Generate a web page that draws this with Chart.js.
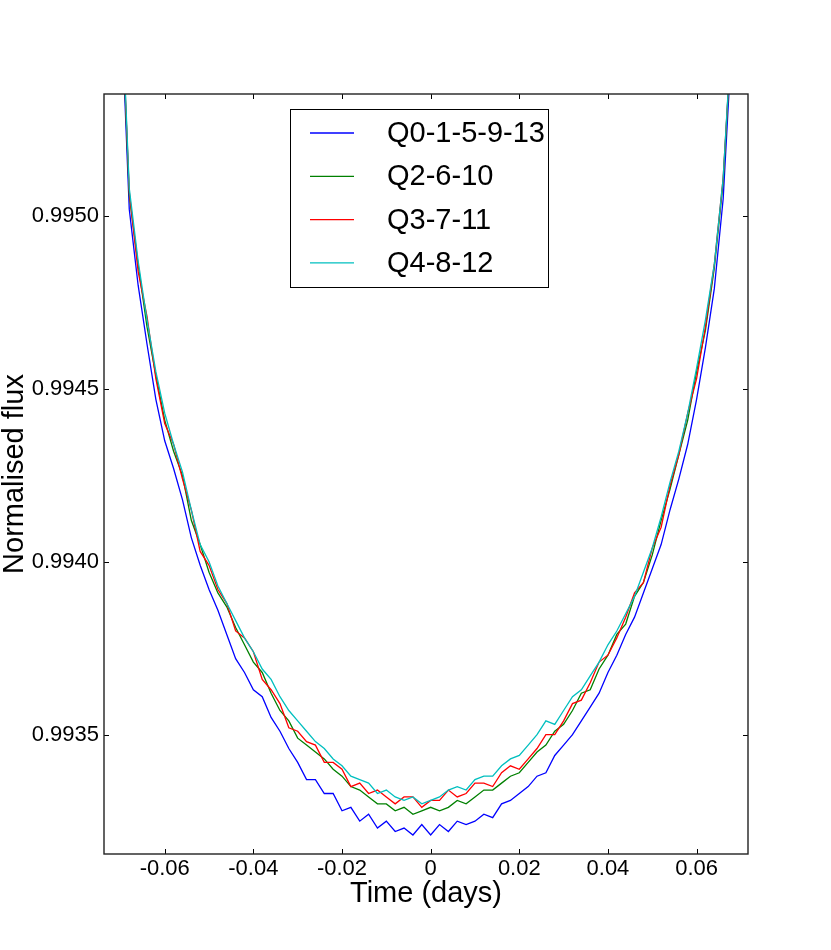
<!DOCTYPE html>
<html>
<head>
<meta charset="utf-8">
<title>Normalised flux</title>
<script src="https://cdn.jsdelivr.net/npm/chart.js@4.4.0/dist/chart.umd.min.js"></script>
<style>
  html, body { margin: 0; padding: 0; background: #fff; }
  #wrap { width: 831px; height: 950px; }
</style>
</head>
<body>
<div id="wrap"><canvas id="fluxChart" width="831" height="950"></canvas></div>
<script>
// time from mid-transit (days)
const timeDays = [
  -0.072, -0.070, -0.068, -0.066, -0.064, -0.062, -0.060, -0.058, -0.056, -0.054, -0.052, -0.050,
  -0.048, -0.046, -0.044, -0.042, -0.040, -0.038, -0.036, -0.034, -0.032, -0.030, -0.028, -0.026,
  -0.024, -0.022, -0.020, -0.018, -0.016, -0.014, -0.012, -0.010, -0.008, -0.006, -0.004, -0.002,
  0.000, 0.002, 0.004, 0.006, 0.008, 0.010, 0.012, 0.014, 0.016, 0.018, 0.020, 0.022,
  0.024, 0.026, 0.028, 0.030, 0.032, 0.034, 0.036, 0.038, 0.040, 0.042, 0.044, 0.046,
  0.048, 0.050, 0.052, 0.054, 0.056, 0.058, 0.060, 0.062, 0.064, 0.066, 0.068, 0.070
];

const fluxQ0 = [
  0.99648, 0.99566, 0.99502, 0.99480, 0.99463, 0.99447, 0.99435, 0.99427, 0.99418, 0.99407, 0.99399, 0.99392,
  0.99386, 0.99379, 0.99372, 0.99368, 0.99363, 0.99361, 0.99355, 0.99351, 0.99346, 0.99342, 0.99337, 0.99337,
  0.99333, 0.99333, 0.99328, 0.99329, 0.99325, 0.99327, 0.99323, 0.99325, 0.99322, 0.99323, 0.99321, 0.99324,
  0.99321, 0.99324, 0.99322, 0.99325, 0.99324, 0.99325, 0.99327, 0.99326, 0.99330, 0.99331, 0.99333, 0.99335,
  0.99338, 0.99339, 0.99344, 0.99347, 0.99350, 0.99354, 0.99358, 0.99362, 0.99368, 0.99373, 0.99379, 0.99384,
  0.99391, 0.99398, 0.99405, 0.99415, 0.99424, 0.99434, 0.99447, 0.99462, 0.99479, 0.99505, 0.99552, 0.99638
];

const fluxQ2 = [
  0.99650, 0.99569, 0.99506, 0.99486, 0.99468, 0.99454, 0.99441, 0.99432, 0.99425, 0.99412, 0.99405, 0.99397,
  0.99391, 0.99387, 0.99381, 0.99376, 0.99371, 0.99368, 0.99362, 0.99357, 0.99354, 0.99349, 0.99347, 0.99345,
  0.99343, 0.99340, 0.99338, 0.99335, 0.99334, 0.99332, 0.99330, 0.99330, 0.99328, 0.99329, 0.99327, 0.99328,
  0.99329, 0.99328, 0.99329, 0.99331, 0.99330, 0.99332, 0.99334, 0.99334, 0.99336, 0.99338, 0.99339, 0.99342,
  0.99345, 0.99347, 0.99351, 0.99353, 0.99357, 0.99362, 0.99363, 0.99369, 0.99373, 0.99379, 0.99382, 0.99390,
  0.99394, 0.99402, 0.99412, 0.99421, 0.99431, 0.99441, 0.99455, 0.99467, 0.99485, 0.99510, 0.99555, 0.99640
];

const fluxQ3 = [
  0.99650, 0.99570, 0.99507, 0.99484, 0.99471, 0.99453, 0.99440, 0.99434, 0.99424, 0.99415, 0.99403, 0.99399,
  0.99392, 0.99388, 0.99380, 0.99378, 0.99374, 0.99366, 0.99363, 0.99359, 0.99352, 0.99351, 0.99348, 0.99347,
  0.99342, 0.99342, 0.99340, 0.99335, 0.99336, 0.99333, 0.99334, 0.99332, 0.99330, 0.99332, 0.99332, 0.99329,
  0.99331, 0.99331, 0.99334, 0.99332, 0.99333, 0.99336, 0.99336, 0.99335, 0.99339, 0.99341, 0.99340, 0.99343,
  0.99346, 0.99350, 0.99350, 0.99354, 0.99359, 0.99360, 0.99365, 0.99371, 0.99373, 0.99378, 0.99384, 0.99391,
  0.99394, 0.99404, 0.99410, 0.99422, 0.99431, 0.99443, 0.99453, 0.99468, 0.99486, 0.99511, 0.99555, 0.99640
];

const fluxQ4 = [
  0.99652, 0.99572, 0.99508, 0.99487, 0.99470, 0.99455, 0.99443, 0.99434, 0.99426, 0.99415, 0.99405, 0.99400,
  0.99393, 0.99388, 0.99383, 0.99378, 0.99374, 0.99369, 0.99366, 0.99361, 0.99357, 0.99354, 0.99351, 0.99348,
  0.99346, 0.99343, 0.99341, 0.99338, 0.99337, 0.99336, 0.99333, 0.99334, 0.99332, 0.99331, 0.99332, 0.99330,
  0.99331, 0.99332, 0.99334, 0.99335, 0.99334, 0.99337, 0.99338, 0.99338, 0.99341, 0.99343, 0.99344, 0.99347,
  0.99350, 0.99354, 0.99353, 0.99357, 0.99361, 0.99363, 0.99367, 0.99371, 0.99376, 0.99380, 0.99385, 0.99390,
  0.99397, 0.99404, 0.99413, 0.99423, 0.99432, 0.99443, 0.99456, 0.99470, 0.99486, 0.99511, 0.99556, 0.99642
];

const seriesLabels = ['Q0-1-5-9-13', 'Q2-6-10', 'Q3-7-11', 'Q4-8-12'];
const seriesColors = ['#0000ff', '#008000', '#ff0000', '#00bfbf'];

const xTicks = [-0.06, -0.04, -0.02, 0, 0.02, 0.04, 0.06];
const xTickLabels = ['-0.06', '-0.04', '-0.02', '0', '0.02', '0.04', '0.06'];
const yTicks = [0.9935, 0.9940, 0.9945, 0.9950];
const yTickLabels = ['0.9935', '0.9940', '0.9945', '0.9950'];

Chart.defaults.font.family = "'Liberation Sans', Arial, sans-serif";
Chart.defaults.color = '#000';

function toPoints(values) {
    return values.map((v, i) => ({ x: timeDays[i], y: v }));
}

// matplotlib-style box: frame, inward ticks on all four sides, boxed legend
const frameAndLegend = {
    id: 'frameAndLegend',
    afterDatasetsDraw(chart) {
        const { ctx, chartArea: a, scales: { x, y } } = chart;
        ctx.save();
        ctx.strokeStyle = '#000';
        ctx.lineWidth = 1;
        ctx.beginPath();
        xTicks.forEach(v => {
            const px = Math.round(x.getPixelForValue(v)) + 0.5;
            ctx.moveTo(px, a.bottom); ctx.lineTo(px, a.bottom - 5);
            ctx.moveTo(px, a.top); ctx.lineTo(px, a.top + 5);
        });
        yTicks.forEach(v => {
            const py = Math.round(y.getPixelForValue(v)) + 0.5;
            ctx.moveTo(a.left, py); ctx.lineTo(a.left + 5, py);
            ctx.moveTo(a.right, py); ctx.lineTo(a.right - 5, py);
        });
        ctx.stroke();

        ctx.lineWidth = 1.4;
        ctx.strokeStyle = '#222';
        ctx.strokeRect(a.left, a.top, a.right - a.left, a.bottom - a.top);

        // legend
        const box = { left: 290.5, top: 109.5, width: 258, height: 178 };
        ctx.fillStyle = '#fff';
        ctx.fillRect(box.left, box.top, box.width, box.height);
        ctx.lineWidth = 1;
        ctx.strokeStyle = '#000';
        ctx.strokeRect(box.left, box.top, box.width, box.height);
        ctx.font = "29px 'Liberation Sans', Arial, sans-serif";
        ctx.textBaseline = 'middle';
        ctx.textAlign = 'left';
        chart.data.datasets.forEach((ds, i) => {
            const rowY = 133 + i * 43.3;
            ctx.strokeStyle = ds.borderColor;
            ctx.lineWidth = 1.3;
            ctx.beginPath();
            ctx.moveTo(310, rowY);
            ctx.lineTo(354, rowY);
            ctx.stroke();
            ctx.fillStyle = '#000';
            ctx.fillText(ds.label, 387, rowY + 1);
        });
        ctx.restore();
    }
};

const fluxSeries = [fluxQ0, fluxQ2, fluxQ3, fluxQ4];

new Chart(document.getElementById('fluxChart').getContext('2d'), {
    type: 'line',
    data: {
        datasets: fluxSeries.map((vals, i) => ({
            label: seriesLabels[i],
            data: toPoints(vals),
            borderColor: seriesColors[i],
            borderWidth: 1.3,
            pointRadius: 0,
            tension: 0,
            fill: false,
            clip: 0,
            order: 4 - i
        }))
    },
    options: {
        responsive: false,
        animation: false,
        devicePixelRatio: 1,
        layout: { padding: { top: 94, right: 83, left: 0, bottom: 0 } },
        plugins: {
            legend: { display: false },
            tooltip: { enabled: false }
        },
        scales: {
            x: {
                type: 'linear',
                min: -0.0737,
                max: 0.0716,
                grid: { display: false, drawTicks: false },
                border: { display: false },
                afterBuildTicks: s => { s.ticks = xTicks.map(v => ({ value: v })); },
                afterFit: s => { s.height = 96; },
                ticks: {
                    padding: 2,
                    font: { size: 22 },
                    callback: (v, i) => xTickLabels[i]
                },
                title: {
                    display: true,
                    text: 'Time (days)',
                    font: { size: 29 },
                    padding: { top: 0, bottom: 38.6 }
                }
            },
            y: {
                min: 0.993155,
                max: 0.995353,
                grid: { display: false, drawTicks: false },
                border: { display: false },
                afterBuildTicks: s => { s.ticks = yTicks.map(v => ({ value: v })); },
                afterFit: s => { s.width = 104; },
                ticks: {
                    padding: 5,
                    font: { size: 22 },
                    callback: (v, i) => yTickLabels[i]
                },
                title: {
                    display: true,
                    text: 'Normalised flux',
                    font: { size: 29, lineHeight: 1 },
                    padding: { top: 0.5, bottom: 0 }
                }
            }
        }
    },
    plugins: [frameAndLegend]
});
</script>
</body>
</html>
